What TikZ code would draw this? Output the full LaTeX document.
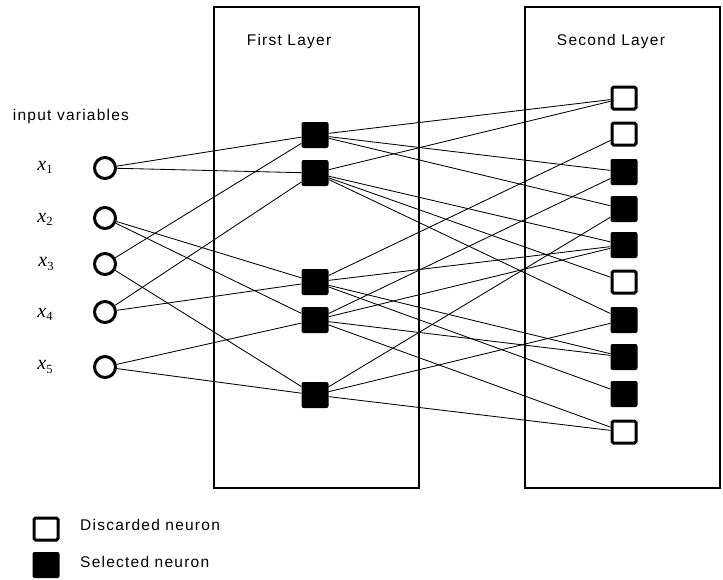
\documentclass[tikz,border=0pt]{standalone}
\usepackage{fontspec}
\setmainfont{Liberation Sans}[LetterSpace=8]
\newfontfamily\varfont{Liberation Serif}
\usetikzlibrary{positioning}

\newcommand{\invname}[1]{{\varfont\itshape x}\raisebox{-0.3ex}{\fontsize{12.5}{13}\selectfont\varfont #1}}

\tikzset{
    layerbox/.style={draw, line width=1.1pt, minimum width=205pt, minimum height=481pt, inner sep=0pt},
    invar/.style={circle, draw, line width=3pt, minimum size=21pt, inner sep=0pt},
    selneuron/.style={rectangle, fill=black, rounded corners=2pt, minimum width=27pt, minimum height=26pt, inner sep=0pt},
    disneuron/.style={rectangle, draw, fill=white, line width=3pt, rounded corners=1.5pt, minimum width=24pt, minimum height=22pt, inner sep=0pt},
    lbl/.style={font=\fontsize{15.5}{17}\selectfont, inner sep=0pt},
    varlbl/.style={font=\fontsize{20}{22}\selectfont, inner sep=0pt},
}

\begin{document}
\begin{tikzpicture}[x=1pt, y=-1pt, every edge/.style={draw, line width=0.85pt}]
    \useasboundingbox (0,0) rectangle (723,579);
    % layers
    \node[layerbox] (L1) at (316.5,247.5) {};
    \node[layerbox, minimum width=195pt] (L2) at (622.5,247.5) {};
    \node[lbl] (T1) at (289,41) {First Layer};
    \node[lbl] (T2) at (611,41) {Second Layer};
    \node[lbl] (T0) at (71,116) {input variables};

    % input variables
    \node[invar] (x1) at (105,168) {};
    \node[invar] (x2) at (105,218) {};
    \node[invar] (x3) at (105,264) {};
    \node[invar] (x4) at (105,312) {};
    \node[invar] (x5) at (105,367) {};
    \node[varlbl] (n1) at (45,167) {\invname{1}};
    \node[varlbl] (n2) at (45,219) {\invname{2}};
    \node[varlbl] (n3) at (46,264) {\invname{3}};
    \node[varlbl] (n4) at (45,314) {\invname{4}};
    \node[varlbl] (n5) at (45,367) {\invname{5}};

    % first layer
    \node[selneuron] (h1) at (315,135) {};
    \node[selneuron] (h2) at (315,173) {};
    \node[selneuron] (h3) at (315,282) {};
    \node[selneuron] (h4) at (315,320) {};
    \node[selneuron] (h5) at (315,395) {};

    % second layer
    \node[disneuron] (o1) at (624,98) {};
    \node[disneuron] (o2) at (624,134) {};
    \node[selneuron] (o3) at (624,172) {};
    \node[selneuron] (o4) at (624,209) {};
    \node[selneuron] (o5) at (624,245) {};
    \node[disneuron] (o6) at (624,282) {};
    \node[selneuron] (o7) at (624,320) {};
    \node[selneuron] (o8) at (624,357) {};
    \node[selneuron] (o9) at (624,394) {};
    \node[disneuron] (o10) at (624,432) {};

    \path (x1) edge (h1) edge (h2);
    \path (x2) edge (h3) edge (h4);
    \path (x3) edge (h1) edge (h5);
    \path (x4) edge (h2) edge (h3);
    \path (x5) edge (h4) edge (h5);

    \path (h1) edge (o1) edge (o3) edge (o4);
    \path (h2) edge (o1) edge (o5) edge (o6) edge (o7);
    \path (h3) edge (o2) edge (o5) edge (o8) edge (o9);
    \path (h4) edge (o3) edge (o5) edge (o8) edge (o10);
    \path (h5) edge (o4) edge (o7) edge (o10);

    % legend
    \node[disneuron] (d0) at (46,529) {};
    \node[selneuron] (s0) at (46,565) {};
    \node[lbl, anchor=west] (d1) at (80,525) {Discarded neuron};
    \node[lbl, anchor=west] (s1) at (80,562) {Selected neuron};
\end{tikzpicture}
\end{document}
